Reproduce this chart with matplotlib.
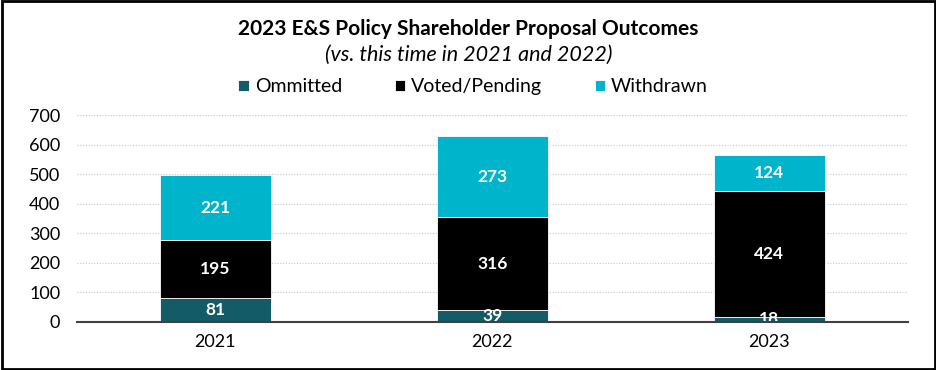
import matplotlib.pyplot as plt
import numpy as np
from matplotlib.patches import Rectangle

plt.rcParams["font.family"] = ["Lato", "DejaVu Sans"]

years = ["2021", "2022", "2023"]
ommitted = [81, 39, 18]
voted_pending = [195, 316, 424]
withdrawn = [221, 273, 124]

series = [
    ("Ommitted", ommitted, "#135b67"),
    ("Voted/Pending", voted_pending, "#000000"),
    ("Withdrawn", withdrawn, "#00b4cb"),
]

fig = plt.figure(figsize=(9.37, 3.70), dpi=100)
ax = fig.add_axes([0.082, 0.130, 0.887, 0.559])

x = np.arange(len(years))
bottom = np.zeros(len(years))
for name, values, color in series:
    bars = ax.bar(x, values, width=0.4, bottom=bottom, color=color,
                  edgecolor="white", linewidth=0.6, label=name, zorder=3)
    for bar, v, b in zip(bars, values, bottom):
        ax.text(bar.get_x() + bar.get_width() / 2, b + v / 2, str(v),
                ha="center", va="center", color="white", fontsize=12.5,
                fontweight="bold", zorder=4)
    bottom += np.array(values)

ax.set_xlim(-0.5, 2.5)
ax.set_ylim(0, 700)
ax.set_yticks(range(0, 701, 100))
ax.set_xticks(x)
ax.set_xticklabels(years)
ax.tick_params(axis="both", length=0, labelsize=13, colors="black")
ax.tick_params(axis="y", pad=12)
ax.tick_params(axis="x", pad=9)
ax.yaxis.grid(True, linestyle=(0, (1, 1.5)), color="#c8c8c8", linewidth=0.8, zorder=0)
for side in ["top", "right", "left"]:
    ax.spines[side].set_visible(False)
ax.spines["bottom"].set_color("#404040")
ax.spines["bottom"].set_linewidth(1.5)
ax.spines["bottom"].set_zorder(5)

fig.text(0.5, 0.922, "2023 E&S Policy Shareholder Proposal Outcomes",
         ha="center", va="center", fontsize=15, fontweight="bold")
fig.text(0.5, 0.851, "(vs. this time in 2021 and 2022)",
         ha="center", va="center", fontsize=15.5, style="italic")

fig.legend(loc="center", bbox_to_anchor=(0.505, 0.765), ncol=3, frameon=False,
           fontsize=14, handlelength=0.55, handleheight=0.55, handletextpad=0.3,
           columnspacing=2.7)

fig.patches.append(Rectangle((0.002, 0.003), 0.996, 0.994, transform=fig.transFigure,
                             fill=False, edgecolor="black", linewidth=2))

fig.savefig("out.png", dpi=100)
